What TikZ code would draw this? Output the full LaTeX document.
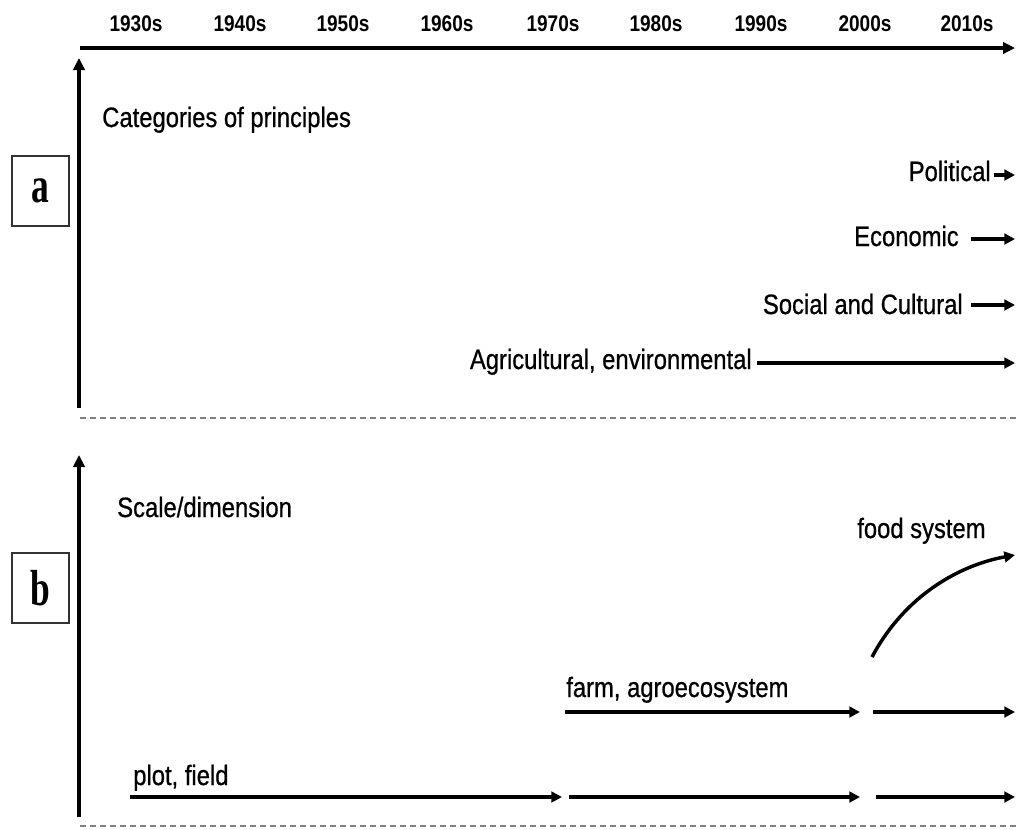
\documentclass[tikz,border=0pt]{standalone}
\usepackage{fontspec}
\newfontfamily\lab{Liberation Sans}[FakeStretch=0.85,FakeBold=0.7]
\newfontfamily\yrf{Liberation Sans Bold}[FakeStretch=0.84]
\newfontfamily\letf{Liberation Serif Bold}[FakeStretch=0.7]
\usetikzlibrary{arrows.meta}
\begin{document}
\begin{tikzpicture}[x=0.75pt,y=-0.75pt,
  yr/.style={font=\yrf\fontsize{17}{19}\selectfont, inner sep=0pt, anchor=base},
  lbl/.style={font=\lab\fontsize{21}{24}\selectfont, inner sep=0pt},
  axis/.style={line width=2.6pt, -{Triangle[length=9pt,width=8.5pt]}},
  arr/.style={line width=2.6pt, -{Triangle[length=8pt,width=8pt]}},
  sep/.style={gray, line width=1.2pt, dash pattern=on 4.5pt off 3pt},
  panel/.style={draw=black!80, line width=1.1pt, minimum width=42.75pt, minimum height=52.5pt, inner sep=0pt, font=\letf\fontsize{38}{42}\selectfont}]
\useasboundingbox (0,0) rectangle (1016,829);

% decade labels
\node[yr] (d1930) at (136,31) {1930s};
\node[yr] (d1940) at (240,31) {1940s};
\node[yr] (d1950) at (343,31) {1950s};
\node[yr] (d1960) at (447,31) {1960s};
\node[yr] (d1970) at (553,31) {1970s};
\node[yr] (d1980) at (656,31) {1980s};
\node[yr] (d1990) at (761,31) {1990s};
\node[yr] (d2000) at (865,31) {2000s};
\node[yr] (d2010) at (967,31) {2010s};

% time axis
\coordinate (tx0) at (80,48);
\coordinate (tx1) at (1015,48);
\draw[axis] (tx0) -- (tx1);

% panel a
\coordinate (ya0) at (79,408);
\coordinate (ya1) at (79,58);
\draw[axis] (ya0) -- (ya1);
\node[panel] (pa) at (40.5,191) {a};
\node[lbl, anchor=base west] (cat) at (102,127) {Categories of principles};

\node[lbl, anchor=base east] (pol) at (991,181) {Political};
\coordinate (pols) at (994,175);
\coordinate (pole) at (1015,175);
\draw[arr] (pols) -- (pole);

\node[lbl, anchor=base east] (eco) at (959,246) {Economic};
\coordinate (ecos) at (971,239);
\coordinate (ecoe) at (1015,239);
\draw[arr] (ecos) -- (ecoe);

\node[lbl, anchor=base east] (soc) at (963,314) {Social and Cultural};
\coordinate (socs) at (971,305);
\coordinate (soce) at (1015,305);
\draw[arr] (socs) -- (soce);

\node[lbl, anchor=base east] (agr) at (752,369) {Agricultural, environmental};
\coordinate (agrs) at (757,363);
\coordinate (agre) at (1015,363);
\draw[arr] (agrs) -- (agre);

% separator
\coordinate (s1a) at (80,418);
\coordinate (s1b) at (1016,418);
\draw[sep] (s1a) -- (s1b);

% panel b
\coordinate (yb0) at (79,817);
\coordinate (yb1) at (79,455);
\draw[axis] (yb0) -- (yb1);
\node[panel] (pb) at (40.5,588) {b};
\node[lbl, anchor=base west] (scl) at (117,517) {Scale/dimension};

\node[lbl, anchor=base west] (food) at (857,538) {food system};
\coordinate (fs) at (872,657);
\coordinate (fe) at (1015,555);
\draw[arr] (fs) .. controls (905,595) and (960,565) .. (fe);

\node[lbl, anchor=base west] (farm) at (566,697) {farm, agroecosystem};
\coordinate (fa1) at (565,712);
\coordinate (fa2) at (860,712);
\coordinate (fa3) at (873,712);
\coordinate (fa4) at (1015,712);
\draw[arr] (fa1) -- (fa2);
\draw[arr] (fa3) -- (fa4);

\node[lbl, anchor=base west] (plot) at (133,785) {plot, field};
\coordinate (pl1) at (130,797);
\coordinate (pl2) at (562,797);
\coordinate (pl3) at (569,797);
\coordinate (pl4) at (860,797);
\coordinate (pl5) at (876,797);
\coordinate (pl6) at (1015,797);
\draw[arr] (pl1) -- (pl2);
\draw[arr] (pl3) -- (pl4);
\draw[arr] (pl5) -- (pl6);

% bottom separator
\coordinate (s2a) at (80,826);
\coordinate (s2b) at (1016,826);
\draw[sep] (s2a) -- (s2b);
\end{tikzpicture}
\end{document}
